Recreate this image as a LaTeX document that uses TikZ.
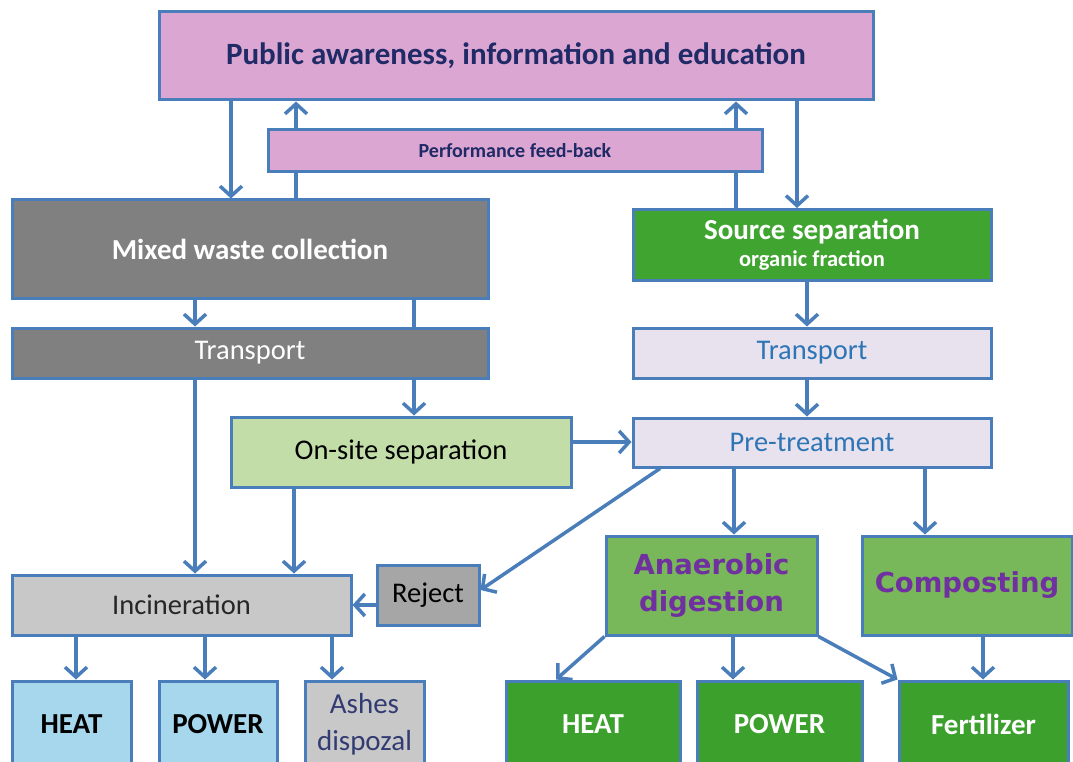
\documentclass[tikz,border=0pt]{standalone}
\usepackage{fontspec}
\setmainfont{Carlito}
\newfontfamily\verdfont{DejaVu Sans}
\usetikzlibrary{arrows.meta}

\definecolor{lineblue}{RGB}{74,126,187}
\definecolor{pinkbox}{RGB}{219,167,210}
\definecolor{navytext}{RGB}{31,42,102}
\definecolor{darkgrey}{RGB}{128,128,128}
\definecolor{srcgreen}{RGB}{64,165,48}
\definecolor{lavender}{RGB}{231,226,238}
\definecolor{bluetext}{RGB}{46,117,182}
\definecolor{sitegreen}{RGB}{195,221,168}
\definecolor{incgrey}{RGB}{200,200,200}
\definecolor{rejgrey}{RGB}{166,166,166}
\definecolor{lightblue}{RGB}{166,215,236}
\definecolor{adgreen}{RGB}{120,183,90}
\definecolor{purpletext}{RGB}{112,48,160}
\definecolor{darkgreen}{RGB}{60,160,45}
\definecolor{ashtext}{RGB}{50,60,115}

\begin{document}
\begin{tikzpicture}[x=1pt, y=-1pt,
every node/.style={draw=lineblue, line width=3pt, inner sep=0pt, align=center},
txt/.style={font=\fontsize{28.5}{32}\selectfont},
btxt/.style={font=\fontsize{29}{32}\selectfont\bfseries},
arr/.style={draw=lineblue, line width=3.5pt, -{Straight Barb[length=10pt,width=22pt]}},
ln/.style={draw=lineblue, line width=3.5pt}
]
\useasboundingbox (0,0) rectangle (1073,762);
\clip (0,0) rectangle (1073,762);

\node[fill=pinkbox, minimum width=714pt, minimum height=88pt, text=navytext,
      font=\fontsize{31}{34}\selectfont\bfseries] (pub) at (516,56)
      {Public awareness, information and education};
\node[fill=pinkbox, minimum width=494pt, minimum height=42pt, text=navytext,
      font=\fontsize{20}{22}\selectfont\bfseries] (feed) at (515,151) {Performance feed-back};

\node[fill=darkgrey, minimum width=476pt, minimum height=98pt, text=white,
      font=\fontsize{29}{32}\selectfont\bfseries] (mix) at (250,249) {Mixed waste collection};
\node[fill=darkgrey, minimum width=476pt, minimum height=50pt, text=white, txt] (tra1) at (250,353) {Transport};
\node[fill=sitegreen, minimum width=340pt, minimum height=70pt, text=black, txt] (site) at (401,452) {On-site separation};

\node[fill=srcgreen, minimum width=358pt, minimum height=71pt, text=white,
      font=\fontsize{29}{30}\selectfont\bfseries] (src) at (812,245)
      {Source separation\\[-3pt]{\fontsize{22.5}{24}\selectfont organic fraction}};
\node[fill=lavender, minimum width=358pt, minimum height=50pt, text=bluetext, txt] (tra2) at (812,353) {Transport};
\node[fill=lavender, minimum width=358pt, minimum height=49pt, text=bluetext, txt] (pre) at (812,442.5) {Pre-treatment};

\node[fill=incgrey, minimum width=339pt, minimum height=60pt, text=black!85, txt] (inc) at (181.5,605) {Incineration};
\node[fill=rejgrey, minimum width=102pt, minimum height=60pt, text=black, txt] (rej) at (428,595) {Reject};
\node[fill=adgreen, minimum width=211pt, minimum height=99pt, text=purpletext,
      font=\fontsize{27.5}{37}\selectfont\verdfont\bfseries] (ad) at (711.5,585.5) {Anaerobic\\digestion};
\node[fill=adgreen, minimum width=210pt, minimum height=99pt, text=purpletext,
      font=\fontsize{27.5}{37}\selectfont\verdfont\bfseries] (comp) at (967,585.5) {Composting};

\node[fill=lightblue, minimum width=119pt, minimum height=86pt, text=black, btxt] (heat1) at (71.5,724) {HEAT};
\node[fill=lightblue, minimum width=118pt, minimum height=86pt, text=black, btxt] (pow1) at (218,724) {POWER};
\node[fill=incgrey, minimum width=119pt, minimum height=86pt, text=ashtext,
      font=\fontsize{29}{37}\selectfont] (ash) at (364.5,724) {Ashes\\dispozal};
\node[fill=darkgreen, minimum width=174pt, minimum height=86pt, text=white, btxt] (heat2) at (593,724) {HEAT};
\node[fill=darkgreen, minimum width=165pt, minimum height=86pt, text=white, btxt] (pow2) at (779.5,724) {POWER};
\node[fill=darkgreen, minimum width=169pt, minimum height=86pt, text=white, btxt] (fert) at (983.5,724) {Fertilizer};

% feed-back loop
\draw[ln] (mix.north -| 296,0) -- (feed.south -| 296,0);
\draw[ln] (src.north -| 736,0) -- (feed.south -| 736,0);
\draw[arr] (feed.north -| 296,0) -- (pub.south -| 296,0);
\draw[arr] (feed.north -| 736,0) -- (pub.south -| 736,0);

\draw[ln] (mix.south -| 414,0) -- (tra1.north -| 414,0);
\draw[arr] (site.east |- 0,442) -- (pre.west |- 0,442);
\draw[arr] (pre.south -| 660,0) -- (rej.east |- 0,590);
\draw[arr] (rej.west |- 0,605) -- (inc.east |- 0,605);
\draw[arr] (ad.south west) -- (heat2.north -| 556,0);
\draw[arr] (ad.south east) -- (fert.north west);

\foreach \a/\b/\x in {pub/mix/231, pub/src/797, mix/tra1/195, tra1/site/414,%
                      tra1/inc/195, site/inc/294, src/tra2/807, tra2/pre/807,%
                      pre/ad/734, pre/comp/925, inc/heat1/76, inc/pow1/205,%
                      inc/ash/332, ad/pow2/733, comp/fert/983}
    \draw[arr] (\a.south -| \x,0) -- (\b.north -| \x,0);

\end{tikzpicture}
\end{document}
